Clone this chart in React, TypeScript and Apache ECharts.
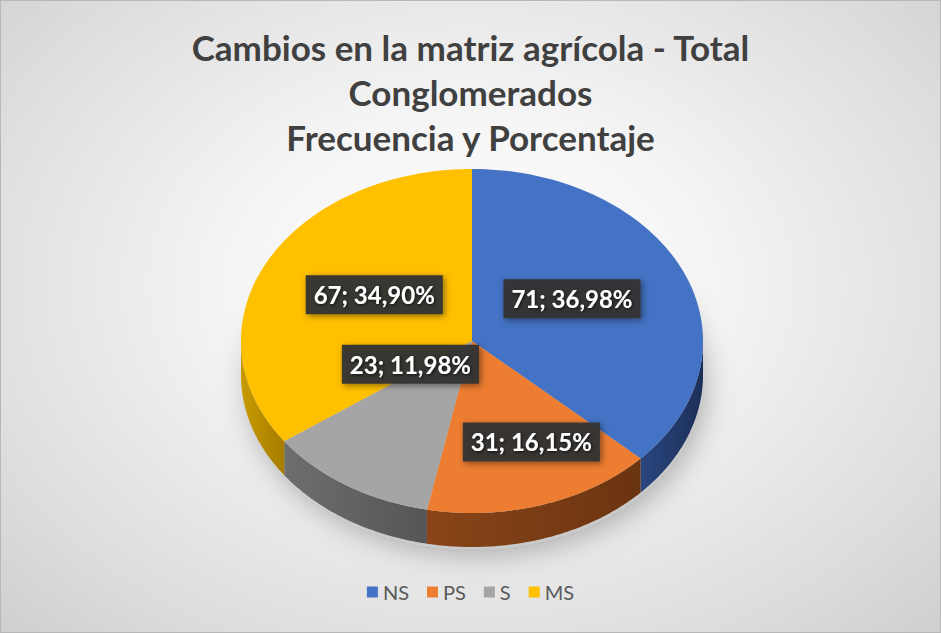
import React, { useEffect, useRef } from "react";
import * as echarts from "echarts";

const categories = ["NS", "PS", "S", "MS"];
const frequencies = [71, 31, 23, 67];
const titleLines = ["Cambios en la matriz agrícola - Total", "Conglomerados", "Frecuencia y Porcentaje"];

const topColors = ["#4472C4", "#ED7D31", "#A5A5A5", "#FFC000"];
const sideColors = [["#2a4680", "#1c2f58"], ["#8a4518", "#6a3410"], ["#6e6e6e", "#555555"], ["#c89a00", "#a67d00"]];
const labelOffsets = [[-6, -8], [24, 19], [1, -49], [5, -7]];

const total = frequencies.reduce((a, b) => a + b, 0);
const starts: number[] = [];
frequencies.reduce((acc, v, i) => { starts[i] = acc; return acc + v; }, 0);

const fmtPct = (v: number) => ((v / total) * 100).toFixed(2).replace(".", ",") + "%";

export default function App() {
  const ref = useRef<HTMLDivElement>(null);
  useEffect(() => {
    document.body.style.margin = "0";
    if (!ref.current) return;
    const chart = echarts.init(ref.current, undefined, { renderer: "svg" });
    const geom = (api: any) => {
      const W = api.getWidth();
      return { cx: W * 0.5016, cy: 340, rx: 231, ry: 172, depth: 34 };
    };
    const renderSlice = (idx: number) => (params: any, api: any) => {
      const { cx, cy, rx, ry, depth } = geom(api);
      const v = api.value(0);
      const a0 = (starts[idx] / total) * Math.PI * 2;
      const a1 = a0 + (v / total) * Math.PI * 2;
      const pt = (t: number, dy = 0) => [cx + rx * Math.sin(t), cy - ry * Math.cos(t) + dy];
      const steps = 80;
      const top: number[][] = [[cx, cy]];
      for (let i = 0; i <= steps; i++) top.push(pt(a0 + ((a1 - a0) * i) / steps));
      const children: any[] = [];
      const s0 = Math.max(a0, Math.PI / 2);
      const s1 = Math.min(a1, (Math.PI * 3) / 2);
      if (s1 > s0) {
        const pts: number[][] = [];
        for (let i = 0; i <= steps; i++) pts.push(pt(s0 + ((s1 - s0) * i) / steps));
        for (let i = steps; i >= 0; i--) pts.push(pt(s0 + ((s1 - s0) * i) / steps, depth));
        children.push({
          type: "polygon",
          shape: { points: pts },
          style: {
            fill: new echarts.graphic.LinearGradient(0, 0, 1, 0, [
              { offset: 0, color: sideColors[idx][0] },
              { offset: 1, color: sideColors[idx][1] },
            ]),
          },
        });
      }
      children.push({ type: "polygon", shape: { points: top }, style: { fill: topColors[idx] } });
      const mid = (a0 + a1) / 2;
      const f = 0.5;
      const lx = cx + rx * Math.sin(mid) * f + labelOffsets[idx][0];
      const ly = cy - ry * Math.cos(mid) * f + labelOffsets[idx][1];
      children.push({
        type: "text",
        z2: 100,
        x: lx,
        y: ly,
        style: {
          text: `${v}; ${fmtPct(v)}`,
          fill: "#ffffff",
          fontSize: 24,
          fontWeight: "bold",
          fontFamily: "Lato",
          align: "center",
          verticalAlign: "middle",
          backgroundColor: "rgba(52,52,52,0.95)",
          padding: [8, 8, 7, 8],
          shadowBlur: 6,
          shadowColor: "rgba(0,0,0,0.45)",
          shadowOffsetX: 2,
          shadowOffsetY: 2,
          textShadowBlur: 3,
          textShadowColor: "rgba(0,0,0,0.7)",
          textShadowOffsetX: 1,
          textShadowOffsetY: 1,
        },
      });
      return { type: "group", children };
    };

    chart.setOption({
      animation: false,
      title: {
        text: titleLines.join("\n"),
        left: "center",
        top: 18,
        textStyle: { fontFamily: "Lato", fontSize: 35, fontWeight: "bold", color: "#404040", lineHeight: 45 },
      },
      legend: {
        data: categories,
        left: "center",
        top: 576,
        icon: "rect",
        itemWidth: 11,
        itemHeight: 11,
        itemGap: 18,
        textStyle: { fontFamily: "Lato", fontSize: 20, color: "#595959" },
      },
      graphic: [
        {
          type: "ellipse",
          z: 0,
          shape: { cx: 472, cy: 346 + 34, rx: 228, ry: 168 },
          style: { fill: "#c8c8c8", shadowBlur: 30, shadowColor: "rgba(0,0,0,0.3)", shadowOffsetX: 4, shadowOffsetY: 4 },
        },
      ],
      series: categories.map((name, i) => ({
        type: "custom",
        name,
        coordinateSystem: "none",
        itemStyle: { color: topColors[i] },
        data: [[frequencies[i]]],
        renderItem: renderSlice(i),
      })),
    });
    return () => chart.dispose();
  }, []);
  return (
    <div
      ref={ref}
      style={{
        width: 941,
        height: 633,
        boxSizing: "border-box",
        border: "1px solid #b8b8b8",
        background: "radial-gradient(ellipse at 50% 45%, #ffffff 0%, #f5f5f5 35%, #dcdcdc 80%, #cfcfcf 100%)",
      }}
    />
  );
}
